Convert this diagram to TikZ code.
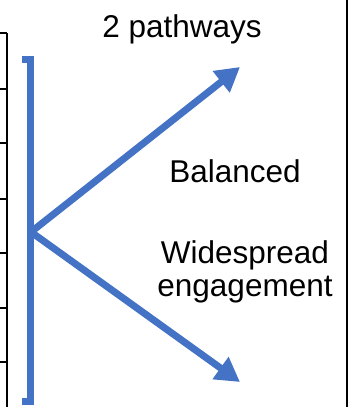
\documentclass[tikz,border=0pt]{standalone}
\usepackage{fontspec}
\setmainfont{Liberation Sans}
\usetikzlibrary{arrows.meta}
\definecolor{officeblue}{RGB}{68,114,196}

\begin{document}
\begin{tikzpicture}[x=1pt,y=-1pt]

	% styles for the blue strokes and the table edges
	\tikzset{
		blue stroke/.style={draw=officeblue, line width=7pt},
		path arrow/.style={blue stroke, -{Triangle[length=24pt, width=26pt]}},
		table edge/.style={draw=black, line width=1.4pt},
		label text/.style={font=\fontsize{31.5}{33}\selectfont, align=center, inner sep=0pt, anchor=base}
	}

	% fix the page size
	\useasboundingbox (0,0) rectangle (350,407);

	% edge of the table on the left, with its row lines
	\draw[table edge] (7,33) -- (7,407);
	\foreach \rowy in {33,89,143,199,253,308,362}
		\draw[table edge] (0,\rowy) -- (7,\rowy);

	% right border
	\draw[table edge] (347,0) -- (347,407);

	% the bracket
	\draw[blue stroke, line cap=butt, line join=miter] (22,59) -- (30,59) -- (30,401) -- (22,401);

	% the two pathways
	\coordinate (apex) at (31,232);
	\coordinate (uptip) at (240,67);
	\coordinate (downtip) at (240,382);
	\draw[path arrow] (apex) -- (uptip);
	\draw[path arrow] (apex) -- (downtip);

	% labels
	\node[label text] (pathways) at (182,37) {2 pathways};
	\node[label text] (balanced) at (235,182) {Balanced};
	\node[label text] (widespread) at (245,296) {Widespread\\engagement};

\end{tikzpicture}
\end{document}
